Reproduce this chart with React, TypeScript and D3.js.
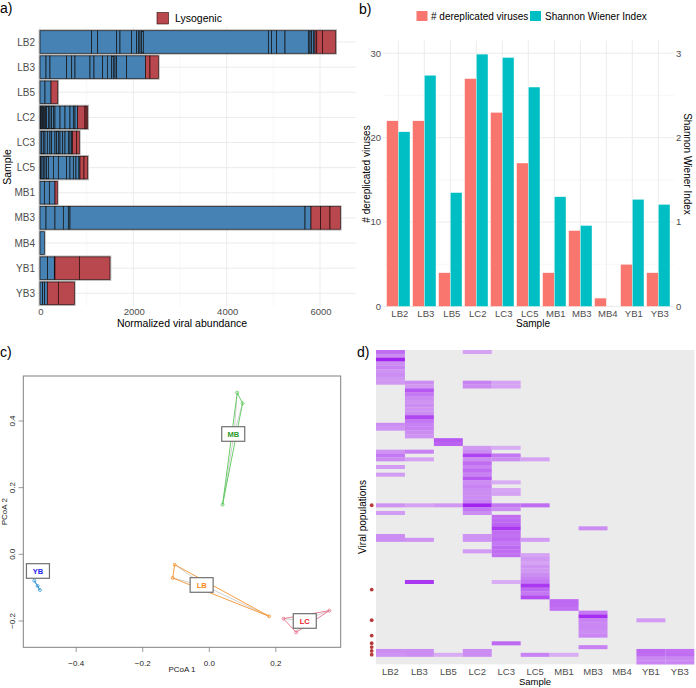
import React from "react";
import * as d3 from "d3";

// ---------------- DATA ----------------
const samples = ["LB2", "LB3", "LB5", "LC2", "LC3", "LC5", "MB1", "MB3", "MB4", "YB1", "YB3"];

// Panel a: cumulative abundance breakpoints of individual viruses (lytic then lysogenic)
const lyticBreaks: number[][] = [
  [0, 1107, 1236, 1643, 1714, 1964, 2071, 2107, 2143, 2179, 2214, 4893, 4964, 5071, 5250, 5750, 5786, 5821, 5857, 5893],
  [0, 129, 214, 571, 679, 750, 1071, 1157, 1343, 1443, 1536, 1571, 1607, 1643, 1857, 2264],
  [0, 107, 236],
  [0, 14, 30, 57, 75, 93, 120, 143, 179, 214, 250, 286, 321, 429, 536, 643, 714, 750, 807],
  [0, 36, 71, 107, 157, 214, 250, 321, 357, 393, 429, 486, 536, 607, 643, 679, 700],
  [0, 14, 43, 71, 107, 143, 179, 286, 393, 571, 643, 714, 771, 836, 857],
  [0, 93, 200, 321],
  [0, 129, 321, 500, 607, 643, 5679, 5807],
  [0, 93],
  [0, 164, 307, 321],
  [0, 57, 100, 157],
];
const lysoBreaks: number[][] = [
  [5893, 5930, 6057, 6336],
  [2264, 2357, 2536],
  [236, 379],
  [807, 964, 990, 1021],
  [700, 786, 843],
  [857, 943, 1021],
  [321, 371],
  [5807, 6014, 6214, 6436],
  [],
  [321, 843, 1500],
  [157, 393, 736],
];
const abundanceTicks = [0, 2000, 4000, 6000];
const abundanceMinor = [1000, 3000, 5000];

// Panel b
const derepCounts = [22, 22, 4, 27, 23, 17, 4, 9, 1, 5, 4];
const shannonIndex = [2.07, 2.74, 1.35, 2.99, 2.95, 2.6, 1.3, 0.96, 0, 1.27, 1.21];
const countTicks = [0, 10, 20, 30];
const countMinor = [5, 15, 25];
const shannonTicks = [0, 1, 2, 3];

// Panel c
const pcoaGroups = ["MB", "LB", "LC", "YB"];
const pcoaPoints: number[][][] = [
  [[0.084, 0.485], [0.1, 0.453], [0.04, 0.149]],
  [[-0.104, -0.031], [-0.11, -0.071], [0.18, -0.186]],
  [[0.223, -0.193], [0.261, -0.234], [0.361, -0.169]],
  [[-0.526, -0.079], [-0.516, -0.095], [-0.509, -0.107]],
];
const pcoaLabelPos: number[][] = [[0.072, 0.361], [-0.023, -0.092], [0.287, -0.2], [-0.515, -0.05]];
const pcoaXTicks = [-0.4, -0.2, 0, 0.2];
const pcoaYTicks = [-0.2, 0, 0.2, 0.4];

// Panel d: [row, relative abundance] per sample
const heatRowCount = 82;
const heatCells: number[][][] = [
  [[0, .6], [1, .45], [2, .95], [3, .45], [4, .5], [5, .42], [6, .45], [7, .4], [8, .4], [19, .45], [20, .42], [26, .42], [27, .55], [28, .45], [30, .38], [32, .38], [40, .42], [42, .38], [48, .45], [49, .45], [78, .45], [79, .42]],
  [[8, .45], [9, .4], [10, .7], [11, .55], [12, .45], [13, .42], [14, .45], [15, .42], [16, .45], [17, .78], [18, .55], [19, .5], [20, .5], [21, .45], [22, .42], [26, .5], [28, .35], [40, .35], [49, .42], [60, .85], [78, .45], [79, .45]],
  [[23, .7], [24, .65], [40, .4], [79, .3]],
  [[0, .35], [8, .5], [9, .45], [25, .4], [26, .45], [27, .8], [28, .45], [29, .6], [30, .5], [31, .6], [32, .5], [33, .7], [34, .45], [35, .5], [36, .45], [37, .45], [38, .45], [39, .5], [40, .95], [41, .55], [42, .45], [48, .42], [49, .42], [52, .38], [78, .45], [79, .45]],
  [[8, .35], [9, .35], [25, .3], [27, .55], [28, .45], [34, .3], [36, .32], [37, .35], [40, .55], [41, .45], [43, .6], [44, .62], [45, .65], [46, .85], [47, .6], [48, .58], [49, .62], [50, .55], [51, .62], [52, .6], [53, .58], [60, .3], [76, .62]],
  [[28, .35], [40, .6], [49, .38], [53, .35], [54, .4], [55, .35], [56, .42], [57, .4], [58, .45], [59, .5], [60, .55], [61, .85], [62, .62], [63, .55], [64, .75], [79, .5]],
  [[65, .62], [66, .62], [67, .58], [79, .3]],
  [[46, .45], [68, .55], [69, .9], [70, .5], [71, .48], [72, .48], [73, .45], [74, .48], [77, .5]],
  [],
  [[70, .38], [78, .62], [79, .6], [80, .48], [81, .48]],
  [[78, .58], [79, .6], [80, .48], [81, .48]],
];
const lysogenicMarkerRows = [40, 62, 70, 74, 76, 77, 78, 79];

// ---------------- STYLES ----------------
const FONT = "'Liberation Sans', Arial, Helvetica, sans-serif";
const LYTIC = "#4682b4";
const LYSO = "#b8474e";
const RED_B = "#f8766d";
const TEAL_B = "#00bfc4";
const GRID = "#ebebeb";
const GRID_MINOR = "#f4f4f4";
const TICK_TXT = "#4d4d4d";
const groupLine = ["#5cc85c", "#f5932c", "#e8708a", "#3a9ad9"];
const groupText = ["#2a9a2a", "#f58a1e", "#e8201e", "#1e1eee"];

export default function App() {
  // ---- panel a ----
  const ax = d3.scaleLinear().domain([0, 6750]).range([40, 355]);
  const ay = d3.scalePoint<string>().domain(samples).range([42, 293.3]);
  const aBarH = 22.6;

  // ---- panel b ----
  const bx = d3.scalePoint<string>().domain(samples).range([398.3, 658.3]);
  const bStep = 26;
  const byL = d3.scaleLinear().domain([0, 31.5]).range([306.5, 40.6]);
  const byR = d3.scaleLinear().domain([0, 3.15]).range([306.5, 40.6]);
  const bw = bStep * 0.45;

  // ---- panel c ----
  const cx = d3.scaleLinear().domain([-0.559, 0.395]).range([23.3, 340.7]);
  const cy = d3.scaleLinear().domain([-0.279, 0.535]).range([647.3, 376]);

  // ---- panel d ----
  const dx = d3.scaleBand<string>().domain(samples).range([376, 694.3]);
  const dy = d3.scaleBand<number>().domain(d3.range(heatRowCount)).range([350, 664.3]);
  const dColor = d3.scaleLinear<string>().domain([0.3, 1]).range(["#d9adf4", "#9e18f0"]).clamp(true);

  const fmt = (t: number) => (t === 0 ? "0.0" : d3.format(".1f")(t).replace("-", "\u2212"));

  return (
    <div style={{ position: "fixed", left: 0, top: 0 }}>
      <svg width={696} height={688} style={{ display: "block", background: "#fff" }} fontFamily={FONT}>
        {/* ================= PANEL A ================= */}
        <text x={0} y={13} fontSize={14}>a)</text>
        {abundanceMinor.map((t) => (
          <line key={"am" + t} x1={ax(t)} x2={ax(t)} y1={27} y2={306} stroke={GRID_MINOR} strokeWidth={0.6} />
        ))}
        {abundanceTicks.map((t) => (
          <line key={"aM" + t} x1={ax(t)} x2={ax(t)} y1={27} y2={306} stroke={GRID} strokeWidth={1} />
        ))}
        {samples.map((s) => (
          <line key={"ah" + s} x1={38} x2={356} y1={ay(s)} y2={ay(s)} stroke={GRID} strokeWidth={1} />
        ))}
        {samples.map((s, i) => {
          const y0 = (ay(s) as number) - aBarH / 2;
          const lyt = lyticBreaks[i];
          const lys = lysoBreaks[i];
          const end = lys.length ? lys[lys.length - 1] : lyt[lyt.length - 1];
          return (
            <g key={"ab" + s}>
              <rect x={ax(0) - 0.8} y={y0 - 0.8} width={ax(end) - ax(0) + 1.6} height={aBarH + 1.6} fill="none" stroke="#b0b0b0" strokeWidth={1} />
              {d3.pairs(lyt).map(([a, b], k) => (
                <rect key={"l" + k} x={ax(a)} y={y0} width={ax(b) - ax(a)} height={aBarH} fill={LYTIC} stroke="#111" strokeWidth={0.7} />
              ))}
              {d3.pairs(lys).map(([a, b], k) => (
                <rect key={"r" + k} x={ax(a)} y={y0} width={ax(b) - ax(a)} height={aBarH} fill={LYSO} stroke="#2a0a0a" strokeWidth={0.7} />
              ))}
            </g>
          );
        })}
        {samples.map((s) => (
          <text key={"at" + s} x={35} y={ay(s)} dy="0.35em" textAnchor="end" fontSize={10} fill={TICK_TXT}>{s}</text>
        ))}
        {abundanceTicks.map((t) => (
          <text key={"axt" + t} x={ax(t) + 1} y={315.2} textAnchor="middle" fontSize={9.5} fill={TICK_TXT}>{t}</text>
        ))}
        <text x={182} y={326.5} textAnchor="middle" fontSize={10.5}>Normalized viral abundance</text>
        <text transform="translate(11,167) rotate(-90)" textAnchor="middle" fontSize={10.5}>Sample</text>
        <rect x={157} y={12.5} width={11.5} height={11.5} fill={LYSO} stroke="#2a0a0a" strokeWidth={0.6} />
        <text x={175} y={22} fontSize={10.5}>Lysogenic</text>

        {/* ================= PANEL B ================= */}
        <text x={359} y={14} fontSize={14}>b)</text>
        {countMinor.map((t) => (
          <line key={"bm" + t} x1={382.7} x2={674} y1={byL(t)} y2={byL(t)} stroke={GRID_MINOR} strokeWidth={0.6} />
        ))}
        {countTicks.map((t) => (
          <line key={"bM" + t} x1={382.7} x2={674} y1={byL(t)} y2={byL(t)} stroke={GRID} strokeWidth={1} />
        ))}
        {samples.map((s) => (
          <line key={"bv" + s} x1={bx(s)} x2={bx(s)} y1={40.6} y2={306.5} stroke={GRID} strokeWidth={1} />
        ))}
        {samples.map((s, i) => (
          <g key={"bb" + s}>
            <rect x={(bx(s) as number) - bw} y={byL(derepCounts[i])} width={bw} height={byL(0) - byL(derepCounts[i])} fill={RED_B} stroke="#fff" strokeWidth={0.4} />
            <rect x={bx(s) as number} y={byR(shannonIndex[i])} width={bw} height={byR(0) - byR(shannonIndex[i])} fill={TEAL_B} stroke="#fff" strokeWidth={0.4} />
          </g>
        ))}
        {countTicks.map((t) => (
          <text key={"blt" + t} x={381} y={byL(t)} dy="0.35em" textAnchor="end" fontSize={9.5} fill={TICK_TXT}>{t}</text>
        ))}
        {shannonTicks.map((t) => (
          <text key={"brt" + t} x={676} y={byR(t)} dy="0.35em" textAnchor="start" fontSize={9.5} fill={TICK_TXT}>{t}</text>
        ))}
        {samples.map((s) => (
          <text key={"bxt" + s} x={(bx(s) as number) + 1.5} y={316.8} textAnchor="middle" fontSize={9.5} fill={TICK_TXT}>{s}</text>
        ))}
        <text x={533} y={327} textAnchor="middle" fontSize={10}>Sample</text>
        <text transform="translate(370,174) rotate(-90)" textAnchor="middle" fontSize={10}># dereplicated viruses</text>
        <text transform="translate(684,164) rotate(90)" textAnchor="middle" fontSize={10}>Shannon Wiener Index</text>
        <rect x={416.5} y={11} width={11} height={10} fill={RED_B} />
        <text x={431} y={19.7} fontSize={10}># dereplicated viruses</text>
        <rect x={530} y={11} width={11} height={10} fill={TEAL_B} />
        <text x={545} y={19.7} fontSize={10}>Shannon Wiener Index</text>

        {/* ================= PANEL C ================= */}
        <text x={0} y={357} fontSize={14}>c)</text>
        {pcoaGroups.map((g, gi) => {
          const pts = pcoaPoints[gi];
          const cen = [d3.mean(pts, (p) => p[0]) as number, d3.mean(pts, (p) => p[1]) as number];
          const hull = d3.polygonHull(pts.map((p) => [cx(p[0]), cy(p[1])] as [number, number])) || [];
          return (
            <g key={"cg" + g}>
              {pts.map((p, k) => (
                <line key={"sp" + k} x1={cx(cen[0])} y1={cy(cen[1])} x2={cx(p[0])} y2={cy(p[1])} stroke="#bdbdbd" strokeWidth={0.7} />
              ))}
              <polygon points={hull.map((h) => h.join(",")).join(" ")} fill="none" stroke={groupLine[gi]} strokeWidth={0.9} />
              {pts.map((p, k) => (
                <circle key={"pt" + k} cx={cx(p[0])} cy={cy(p[1])} r={1.5} fill="none" stroke={groupLine[gi]} strokeWidth={0.8} />
              ))}
            </g>
          );
        })}
        {pcoaGroups.map((g, gi) => {
          const px = cx(pcoaLabelPos[gi][0]);
          const py = cy(pcoaLabelPos[gi][1]);
          return (
            <g key={"cl" + g}>
              <rect x={px - 11.5} y={py - 7.3} width={23} height={14.6} fill="#fff" stroke="#707070" strokeWidth={1.2} />
              <text x={px} y={py} dy="0.35em" textAnchor="middle" fontSize={7.5} fontWeight="bold" fill={groupText[gi]}>{g}</text>
            </g>
          );
        })}
        <rect x={23.3} y={376} width={317.4} height={271.3} fill="none" stroke="#808080" strokeWidth={1} />
        {pcoaXTicks.map((t) => (
          <g key={"cxt" + t}>
            <line x1={cx(t)} x2={cx(t)} y1={647.3} y2={652} stroke="#808080" strokeWidth={0.8} />
            <text x={cx(t)} y={665.5} textAnchor="middle" fontSize={8} fill="#222">{fmt(t)}</text>
          </g>
        ))}
        {pcoaYTicks.map((t) => (
          <g key={"cyt" + t}>
            <line x1={18.6} x2={23.3} y1={cy(t)} y2={cy(t)} stroke="#808080" strokeWidth={0.8} />
            <text transform={`translate(14.5,${cy(t)}) rotate(-90)`} textAnchor="middle" fontSize={8} fill="#222">{fmt(t)}</text>
          </g>
        ))}
        <text x={182} y={671.5} textAnchor="middle" fontSize={8} fill="#222">PCoA 1</text>
        <text transform="translate(6.5,511.7) rotate(-90)" textAnchor="middle" fontSize={8} fill="#222">PCoA 2</text>

        {/* ================= PANEL D ================= */}
        <text x={357} y={357} fontSize={14}>d)</text>
        <rect x={376} y={350} width={318.3} height={314.3} fill="#ebebeb" />
        {samples.map((s, i) =>
          heatCells[i].map(([r, v]) => (
            <rect key={"h" + s + r} x={dx(s)} y={dy(r)} width={dx.bandwidth()} height={dy.bandwidth() + 0.2} fill={dColor(v)} />
          ))
        )}
        {lysogenicMarkerRows.map((r) => (
          <circle key={"dm" + r} cx={371.7} cy={(dy(r) as number) + dy.bandwidth() / 2} r={1.9} fill="#b83a3a" />
        ))}
        {samples.map((s) => (
          <text key={"dxt" + s} x={(dx(s) as number) + dx.bandwidth() / 2} y={675} textAnchor="middle" fontSize={9.5} fill={TICK_TXT}>{s}</text>
        ))}
        <text x={535} y={685} textAnchor="middle" fontSize={9.5}>Sample</text>
        <text transform="translate(366,517) rotate(-90)" textAnchor="middle" fontSize={10}>Viral populations</text>
      </svg>
    </div>
  );
}
